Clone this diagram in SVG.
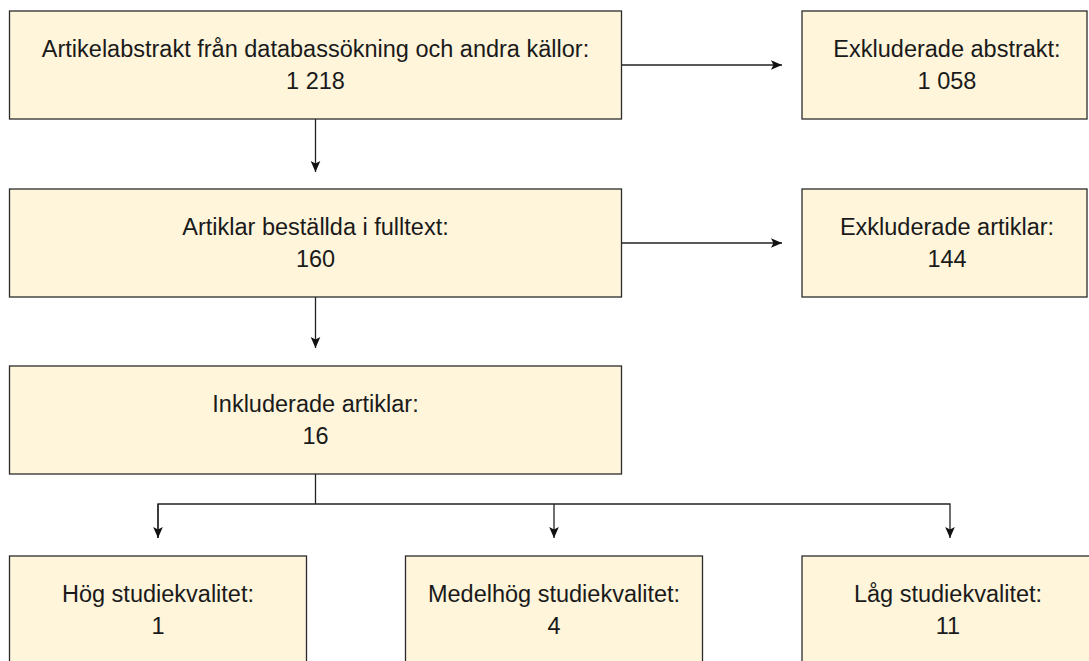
<svg xmlns="http://www.w3.org/2000/svg" width="1089" height="661" viewBox="0 0 1089 661">
<defs>
<marker id="arr" viewBox="0 0 10 10" refX="10" refY="5" markerWidth="11" markerHeight="11" markerUnits="userSpaceOnUse" orient="auto">
<path d="M0,0.6 L10,5 L0,9.4 L2.2,5 Z" fill="#111"/>
</marker>
<style>
.box{fill:#FEF5DB;stroke:#2b2b2b;stroke-width:1.3}
.t{font-family:"Liberation Sans",Arial,sans-serif;font-size:23.5px;fill:#1a1a1a;text-anchor:middle}
.c{fill:none;stroke:#222;stroke-width:1.3}
</style>
</defs>
<rect width="1089" height="661" fill="#ffffff"/>
<g id="connectors">
<line class="c" x1="622" y1="65" x2="782" y2="65" marker-end="url(#arr)"/>
<line class="c" x1="622" y1="243" x2="782" y2="243" marker-end="url(#arr)"/>
<line class="c" x1="315.5" y1="119" x2="315.5" y2="172" marker-end="url(#arr)"/>
<line class="c" x1="315.5" y1="297" x2="315.5" y2="348" marker-end="url(#arr)"/>
<polyline class="c" points="315.5,474 315.5,504"/>
<polyline class="c" points="158,538 158,504 950,504 950,538" marker-end="url(#arr)"/>
<polyline class="c" points="158,504 158,538" marker-end="url(#arr)"/>
<line class="c" x1="554" y1="504" x2="554" y2="538" marker-end="url(#arr)"/>
</g>
<g id="n1">
<rect class="box" x="9.5" y="11" width="612" height="108"/>
<text class="t" x="315.5" y="57">Artikelabstrakt från databassökning och andra källor:</text>
<text class="t" x="315.5" y="89">1 218</text>
</g>
<g id="n2">
<rect class="box" x="802" y="11" width="285" height="108"/>
<text class="t" x="947" y="57">Exkluderade abstrakt:</text>
<text class="t" x="947" y="89">1 058</text>
</g>
<g id="n3">
<rect class="box" x="9.5" y="189" width="612" height="108"/>
<text class="t" x="315.5" y="235">Artiklar beställda i fulltext:</text>
<text class="t" x="315.5" y="267">160</text>
</g>
<g id="n4">
<rect class="box" x="802" y="189" width="285" height="108"/>
<text class="t" x="947" y="235">Exkluderade artiklar:</text>
<text class="t" x="947" y="267">144</text>
</g>
<g id="n5">
<rect class="box" x="9.5" y="366" width="612" height="108"/>
<text class="t" x="315.5" y="412">Inkluderade artiklar:</text>
<text class="t" x="315.5" y="444">16</text>
</g>
<g id="n6">
<rect class="box" x="9.5" y="556" width="297" height="120"/>
<text class="t" x="158" y="602">Hög studiekvalitet:</text>
<text class="t" x="158" y="634">1</text>
</g>
<g id="n7">
<rect class="box" x="405.5" y="556" width="297" height="120"/>
<text class="t" x="554" y="602">Medelhög studiekvalitet:</text>
<text class="t" x="554" y="634">4</text>
</g>
<g id="n8">
<rect class="box" x="802" y="556" width="297" height="120"/>
<text class="t" x="948" y="602">Låg studiekvalitet:</text>
<text class="t" x="948" y="634">11</text>
</g>
</svg>
